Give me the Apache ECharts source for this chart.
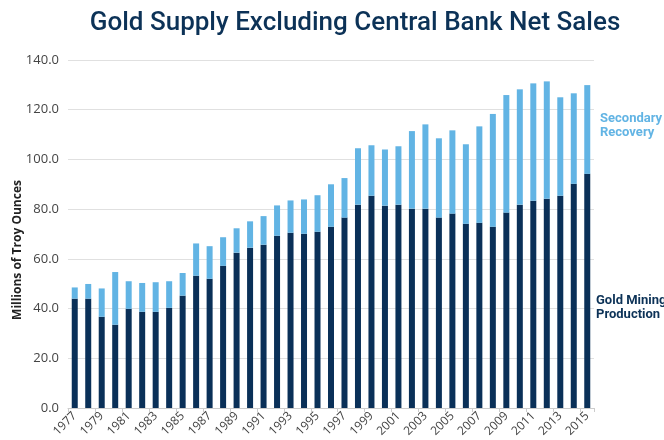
<!DOCTYPE html>
<html>
<head>
<meta charset="utf-8">
<script src="https://cdn.jsdelivr.net/npm/echarts@6/dist/echarts.min.js"></script>
<style>html,body{margin:0;padding:0;background:#fff}#c{width:664px;height:440px}</style>
</head>
<body>
<div id="c"></div>
<script>
const years = ['1977','1978','1979','1980','1981','1982','1983','1984','1985','1986','1987','1988','1989','1990','1991','1992','1993','1994','1995','1996','1997','1998','1999','2000','2001','2002','2003','2004','2005','2006','2007','2008','2009','2010','2011','2012','2013','2014','2015'];
const goldMining = [44.0,44.0,36.7,33.5,39.9,38.7,38.7,40.3,45.2,53.2,52.0,57.2,62.5,64.5,65.7,69.3,70.5,70.1,70.9,72.9,76.6,81.8,85.4,81.4,81.8,80.2,80.2,76.6,78.2,74.1,74.5,72.9,78.6,81.8,83.4,84.2,85.4,90.2,94.2];
const secondaryRecovery = [4.5,5.9,11.4,21.2,11.1,11.6,11.9,10.7,9.1,13.0,13.1,11.5,9.8,10.6,11.5,12.2,13.0,13.8,14.7,17.1,15.9,22.7,20.3,22.6,23.5,31.2,33.9,31.9,33.5,32.0,38.8,45.4,47.3,46.4,47.2,47.2,39.6,36.4,35.7];
const yTicks = [0,20,40,60,80,100,120,140];

const chart = echarts.init(document.getElementById('c'), null, {renderer:'canvas'});
chart.setOption({
  animation:false,
  backgroundColor:'#fff',
  title:{
    text:'Gold Supply Excluding Central Bank Net Sales',
    left:350, top:5, textAlign:'center',
    textStyle:{fontFamily:'Roboto,sans-serif',fontSize:26,fontWeight:500,color:'#0c3257'}
  },
  grid:{left:68,right:70,top:60,bottom:32,containLabel:false},
  xAxis:{
    type:'category',
    data:years,
    axisLine:{lineStyle:{color:'#cccccc',width:1}},
    axisTick:{show:true,interval:1,length:4,lineStyle:{color:'#cccccc'}},
    axisLabel:{interval:1,rotate:45,fontSize:12,color:'#444',fontFamily:'"Open Sans",sans-serif',margin:6}
  },
  yAxis:{
    type:'value',min:yTicks[0],max:yTicks[yTicks.length-1],interval:20,
    axisLine:{show:false},axisTick:{show:false},
    splitLine:{lineStyle:{color:'#e0e0e0',width:1}},
    axisLabel:{fontSize:13,color:'#444',fontFamily:'"Open Sans",sans-serif',margin:9,formatter:v=>v.toFixed(1)}
  },
  series:[
    {name:'Gold Mining Production',type:'bar',stack:'s',data:goldMining,barWidth:6,itemStyle:{color:'#0a3058'}},
    {name:'Secondary Recovery',type:'bar',stack:'s',data:secondaryRecovery,barWidth:6,itemStyle:{color:'#62b4e4'}}
  ],
  graphic:[
    {type:'text',x:18,y:250,rotation:Math.PI/2,style:{text:'Millions of Troy Ounces',font:'bold 12px "Open Sans",sans-serif',fill:'#222',align:'center',verticalAlign:'middle'}},
    {type:'text',x:600,y:112,style:{text:'Secondary\nRecovery',font:'bold 13px Roboto,sans-serif',fill:'#62b4e4',lineHeight:14}},
    {type:'text',x:596,y:294,style:{text:'Gold Mining\nProduction',font:'bold 13px Roboto,sans-serif',fill:'#0c3257',lineHeight:14}}
  ]
});
</script>
</body>
</html>
